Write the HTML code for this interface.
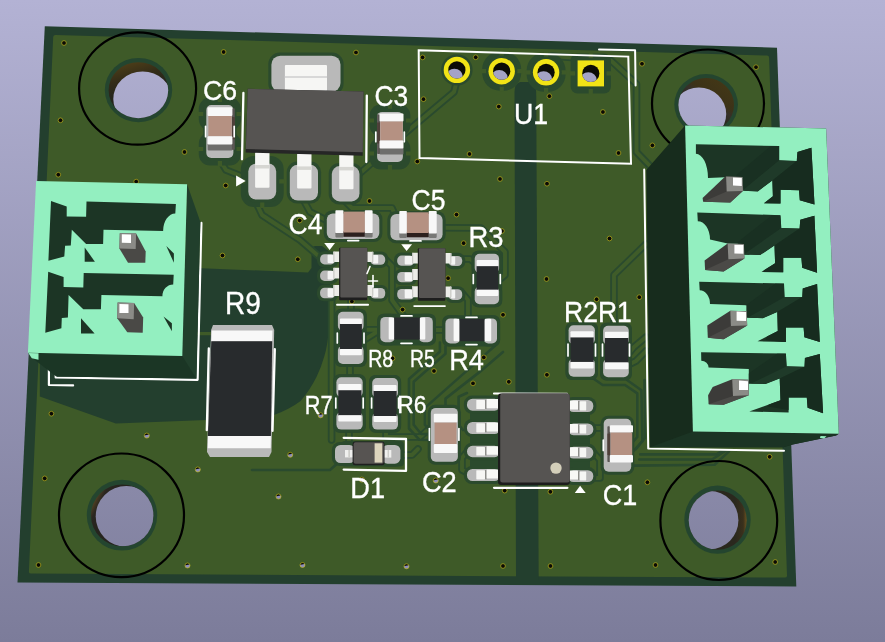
<!DOCTYPE html>
<html><head><meta charset="utf-8"><title>PCB 3D view</title>
<style>
html,body{margin:0;padding:0;background:#9a99ba;overflow:hidden}
svg{display:block}
text{font-family:"Liberation Sans",sans-serif;fill:#fff;stroke:#fff;stroke-width:0.35px}
</style></head><body>
<svg width="885" height="642" viewBox="0 0 885 642">
<defs>
<linearGradient id="bg" gradientUnits="userSpaceOnUse" x1="0" y1="0" x2="0" y2="642">
<stop offset="0" stop-color="#b3b2d4"/><stop offset="1" stop-color="#7c7c9a"/></linearGradient>
<filter id="idf" x="0" y="0" width="885" height="642" filterUnits="userSpaceOnUse"><feOffset dx="0" dy="0"/></filter>
<linearGradient id="vg" x1="0.3" y1="0" x2="0.5" y2="1"><stop offset="0.3" stop-color="#0a0a05"/><stop offset="0.5" stop-color="#8c8cba"/></linearGradient>
<linearGradient id="wall0" x1="0.3" y1="0" x2="0.45" y2="0.5"><stop offset="0" stop-color="#4e3e18"/><stop offset="0.55" stop-color="#332c18"/><stop offset="1" stop-color="#26261c"/></linearGradient>
<linearGradient id="wall1" x1="0.85" y1="0.1" x2="0.5" y2="0.6"><stop offset="0" stop-color="#433716"/><stop offset="0.55" stop-color="#3c3218"/><stop offset="0.75" stop-color="#35302a"/><stop offset="1" stop-color="#2a2a20"/></linearGradient>
<linearGradient id="wall2" x1="0" y1="0.4" x2="0.2" y2="0.5"><stop offset="0" stop-color="#4a3c22"/><stop offset="0.35" stop-color="#2a2620"/><stop offset="1" stop-color="#26241e"/></linearGradient>
<linearGradient id="wall3" x1="1" y1="0.5" x2="0.8" y2="0.5"><stop offset="0" stop-color="#6a5220"/><stop offset="0.3" stop-color="#3a301c"/><stop offset="1" stop-color="#2a281e"/></linearGradient>
</defs>
<rect width="885" height="642" fill="url(#bg)"/>

<polygon points="44.8,26.2 777.0,47.7 796.3,586.5 17.5,582.5" fill="#233f2e" />
<path d="M55.5,35 L767,55.6 Q769,55.7 769.1,57.7 L787,575.5 Q787.1,577.6 785,577.6 L31,573.6 Q28.8,573.6 28.9,571.5 L53.2,37 Q53.3,35 55.5,35 Z" fill="#3e5a28"/>
<path d="M42,268 L201.7,268.3 L308,272.4 L311.5,268 L311.5,250 Q311.5,246 316,246 L322,246 L330,252 L330,306 L329.7,320 Q328,345 324.4,356 Q321,368 316.5,377 Q310,390 300.6,401 Q290,409 274,415 L206.6,420 L115.8,423.5 L39.8,396.4 L39.8,300 Z" fill="#233f2e"/>
<path d="M514.5,92 Q514.5,84 520,82 L530,82 Q536,84 536.2,92 L538.7,580 L516,580 Z" fill="#233f2e"/>
<polyline points="456.5,82.0 454.0,92.0 404.0,134.0 366.0,168.0 350.0,182.0" fill="none" stroke="#2a4a2e" stroke-width="7.60" stroke-linecap="round" stroke-linejoin="round"/>
<polyline points="546.0,60.0 552.0,56.0 611.0,60.5 636.5,84.0 636.5,152.0 650.0,166.0" fill="none" stroke="#2a4a2e" stroke-width="7.60" stroke-linecap="round" stroke-linejoin="round"/>
<polyline points="646.0,244.0 614.0,275.0 614.0,326.0" fill="none" stroke="#2a4a2e" stroke-width="7.60" stroke-linecap="round" stroke-linejoin="round"/>
<polyline points="646.0,337.0 634.0,347.0 630.0,352.0" fill="none" stroke="#2a4a2e" stroke-width="7.60" stroke-linecap="round" stroke-linejoin="round"/>
<polyline points="646.0,351.0 636.0,361.0 630.0,364.0" fill="none" stroke="#2a4a2e" stroke-width="7.60" stroke-linecap="round" stroke-linejoin="round"/>
<polyline points="255.0,200.0 262.0,215.0 300.0,240.0 322.0,259.0" fill="none" stroke="#2a4a2e" stroke-width="7.60" stroke-linecap="round" stroke-linejoin="round"/>
<polyline points="304.0,201.0 310.0,212.0 338.0,226.0" fill="none" stroke="#2a4a2e" stroke-width="7.60" stroke-linecap="round" stroke-linejoin="round"/>
<polyline points="345.0,201.0 352.0,208.0 392.0,208.0 400.0,226.0" fill="none" stroke="#2a4a2e" stroke-width="7.60" stroke-linecap="round" stroke-linejoin="round"/>
<polyline points="437.0,227.7 481.0,228.0 505.0,252.0 505.0,275.0 499.0,280.0" fill="none" stroke="#2a4a2e" stroke-width="7.60" stroke-linecap="round" stroke-linejoin="round"/>
<polyline points="462.0,259.0 470.0,259.0 474.0,262.0" fill="none" stroke="#2a4a2e" stroke-width="7.60" stroke-linecap="round" stroke-linejoin="round"/>
<polyline points="462.0,293.0 468.0,300.0 468.0,318.0" fill="none" stroke="#2a4a2e" stroke-width="7.60" stroke-linecap="round" stroke-linejoin="round"/>
<polyline points="385.0,259.0 392.0,266.0 392.0,300.0 405.0,318.0" fill="none" stroke="#2a4a2e" stroke-width="7.60" stroke-linecap="round" stroke-linejoin="round"/>
<polyline points="351.0,299.0 351.0,314.0" fill="none" stroke="#2a4a2e" stroke-width="7.60" stroke-linecap="round" stroke-linejoin="round"/>
<polyline points="350.0,364.0 350.0,378.0" fill="none" stroke="#2a4a2e" stroke-width="7.60" stroke-linecap="round" stroke-linejoin="round"/>
<polyline points="364.0,340.0 380.0,330.0" fill="none" stroke="#2a4a2e" stroke-width="7.60" stroke-linecap="round" stroke-linejoin="round"/>
<polyline points="432.0,330.0 445.0,330.0" fill="none" stroke="#2a4a2e" stroke-width="7.60" stroke-linecap="round" stroke-linejoin="round"/>
<polyline points="386.0,430.0 386.0,437.0 420.0,437.0 430.0,428.0" fill="none" stroke="#2a4a2e" stroke-width="7.60" stroke-linecap="round" stroke-linejoin="round"/>
<polyline points="467.0,452.0 462.0,458.0 462.0,470.0 475.0,476.0" fill="none" stroke="#2a4a2e" stroke-width="7.60" stroke-linecap="round" stroke-linejoin="round"/>
<polyline points="349.0,430.0 349.0,446.0" fill="none" stroke="#2a4a2e" stroke-width="7.60" stroke-linecap="round" stroke-linejoin="round"/>
<polyline points="400.0,455.0 412.0,455.0 418.0,449.0" fill="none" stroke="#2a4a2e" stroke-width="7.60" stroke-linecap="round" stroke-linejoin="round"/>
<polyline points="593.0,428.0 602.0,428.0 606.0,424.0" fill="none" stroke="#2a4a2e" stroke-width="7.60" stroke-linecap="round" stroke-linejoin="round"/>
<polyline points="593.0,452.0 600.0,460.0 600.0,478.0 593.0,478.0" fill="none" stroke="#2a4a2e" stroke-width="7.60" stroke-linecap="round" stroke-linejoin="round"/>
<polyline points="220.0,160.0 226.0,170.0 246.0,178.0" fill="none" stroke="#2a4a2e" stroke-width="7.60" stroke-linecap="round" stroke-linejoin="round"/>
<polyline points="331.6,300.0 331.6,440.0" fill="none" stroke="#2a4a2e" stroke-width="7.60" stroke-linecap="round" stroke-linejoin="round"/>
<polyline points="364.0,329.7 381.0,329.7" fill="none" stroke="#2a4a2e" stroke-width="7.60" stroke-linecap="round" stroke-linejoin="round"/>
<polyline points="456.5,82.0 454.0,92.0 404.0,134.0 366.0,168.0 350.0,182.0" fill="none" stroke="#3f5c29" stroke-width="3.90" stroke-linecap="round" stroke-linejoin="round"/>
<polyline points="546.0,60.0 552.0,56.0 611.0,60.5 636.5,84.0 636.5,152.0 650.0,166.0" fill="none" stroke="#3f5c29" stroke-width="3.90" stroke-linecap="round" stroke-linejoin="round"/>
<polyline points="646.0,244.0 614.0,275.0 614.0,326.0" fill="none" stroke="#3f5c29" stroke-width="3.90" stroke-linecap="round" stroke-linejoin="round"/>
<polyline points="646.0,337.0 634.0,347.0 630.0,352.0" fill="none" stroke="#3f5c29" stroke-width="3.90" stroke-linecap="round" stroke-linejoin="round"/>
<polyline points="646.0,351.0 636.0,361.0 630.0,364.0" fill="none" stroke="#3f5c29" stroke-width="3.90" stroke-linecap="round" stroke-linejoin="round"/>
<polyline points="255.0,200.0 262.0,215.0 300.0,240.0 322.0,259.0" fill="none" stroke="#3f5c29" stroke-width="3.90" stroke-linecap="round" stroke-linejoin="round"/>
<polyline points="304.0,201.0 310.0,212.0 338.0,226.0" fill="none" stroke="#3f5c29" stroke-width="3.90" stroke-linecap="round" stroke-linejoin="round"/>
<polyline points="345.0,201.0 352.0,208.0 392.0,208.0 400.0,226.0" fill="none" stroke="#3f5c29" stroke-width="3.90" stroke-linecap="round" stroke-linejoin="round"/>
<polyline points="437.0,227.7 481.0,228.0 505.0,252.0 505.0,275.0 499.0,280.0" fill="none" stroke="#3f5c29" stroke-width="3.90" stroke-linecap="round" stroke-linejoin="round"/>
<polyline points="462.0,259.0 470.0,259.0 474.0,262.0" fill="none" stroke="#3f5c29" stroke-width="3.90" stroke-linecap="round" stroke-linejoin="round"/>
<polyline points="462.0,293.0 468.0,300.0 468.0,318.0" fill="none" stroke="#3f5c29" stroke-width="3.90" stroke-linecap="round" stroke-linejoin="round"/>
<polyline points="385.0,259.0 392.0,266.0 392.0,300.0 405.0,318.0" fill="none" stroke="#3f5c29" stroke-width="3.90" stroke-linecap="round" stroke-linejoin="round"/>
<polyline points="351.0,299.0 351.0,314.0" fill="none" stroke="#3f5c29" stroke-width="3.90" stroke-linecap="round" stroke-linejoin="round"/>
<polyline points="350.0,364.0 350.0,378.0" fill="none" stroke="#3f5c29" stroke-width="3.90" stroke-linecap="round" stroke-linejoin="round"/>
<polyline points="364.0,340.0 380.0,330.0" fill="none" stroke="#3f5c29" stroke-width="3.90" stroke-linecap="round" stroke-linejoin="round"/>
<polyline points="432.0,330.0 445.0,330.0" fill="none" stroke="#3f5c29" stroke-width="3.90" stroke-linecap="round" stroke-linejoin="round"/>
<polyline points="386.0,430.0 386.0,437.0 420.0,437.0 430.0,428.0" fill="none" stroke="#3f5c29" stroke-width="3.90" stroke-linecap="round" stroke-linejoin="round"/>
<polyline points="467.0,452.0 462.0,458.0 462.0,470.0 475.0,476.0" fill="none" stroke="#3f5c29" stroke-width="3.90" stroke-linecap="round" stroke-linejoin="round"/>
<polyline points="349.0,430.0 349.0,446.0" fill="none" stroke="#3f5c29" stroke-width="3.90" stroke-linecap="round" stroke-linejoin="round"/>
<polyline points="400.0,455.0 412.0,455.0 418.0,449.0" fill="none" stroke="#3f5c29" stroke-width="3.90" stroke-linecap="round" stroke-linejoin="round"/>
<polyline points="593.0,428.0 602.0,428.0 606.0,424.0" fill="none" stroke="#3f5c29" stroke-width="3.90" stroke-linecap="round" stroke-linejoin="round"/>
<polyline points="593.0,452.0 600.0,460.0 600.0,478.0 593.0,478.0" fill="none" stroke="#3f5c29" stroke-width="3.90" stroke-linecap="round" stroke-linejoin="round"/>
<polyline points="220.0,160.0 226.0,170.0 246.0,178.0" fill="none" stroke="#3f5c29" stroke-width="3.90" stroke-linecap="round" stroke-linejoin="round"/>
<polyline points="331.6,300.0 331.6,440.0" fill="none" stroke="#3f5c29" stroke-width="3.90" stroke-linecap="round" stroke-linejoin="round"/>
<polyline points="364.0,329.7 381.0,329.7" fill="none" stroke="#3f5c29" stroke-width="3.90" stroke-linecap="round" stroke-linejoin="round"/>
<polyline points="439.9,342.5 439.9,351.8 409.0,378.9 409.0,428.5 419.3,439.7 430.0,440.0" fill="none" stroke="#2a4a2e" stroke-width="2.60" stroke-linecap="round" stroke-linejoin="round"/>
<polyline points="445.5,346.2 445.5,353.7 413.7,381.7 413.7,424.7 421.2,434.0 430.0,434.0" fill="none" stroke="#2a4a2e" stroke-width="2.60" stroke-linecap="round" stroke-linejoin="round"/>
<polyline points="497.0,344.0 473.5,364.9 424.9,407.9 424.9,424.7 431.0,432.0" fill="none" stroke="#2a4a2e" stroke-width="2.60" stroke-linecap="round" stroke-linejoin="round"/>
<polyline points="503.0,352.0 479.1,372.4 445.5,398.6 445.5,406.0" fill="none" stroke="#2a4a2e" stroke-width="2.60" stroke-linecap="round" stroke-linejoin="round"/>
<polyline points="467.0,393.0 458.6,396.7 458.6,424.7 463.0,430.0" fill="none" stroke="#2a4a2e" stroke-width="2.60" stroke-linecap="round" stroke-linejoin="round"/>
<polyline points="252.0,470.0 330.0,470.0 340.0,461.0" fill="none" stroke="#2a4a2e" stroke-width="2.60" stroke-linecap="round" stroke-linejoin="round"/>
<polyline points="592.5,378.0 602.7,385.0 625.0,385.0 637.3,393.4 637.3,437.0 632.0,443.0" fill="none" stroke="#2a4a2e" stroke-width="2.60" stroke-linecap="round" stroke-linejoin="round"/>
<polyline points="627.0,380.0 641.4,390.3 642.4,441.0 633.2,451.4" fill="none" stroke="#2a4a2e" stroke-width="2.60" stroke-linecap="round" stroke-linejoin="round"/>
<polyline points="644.5,380.0 645.0,438.0 636.0,449.0" fill="none" stroke="#2a4a2e" stroke-width="2.60" stroke-linecap="round" stroke-linejoin="round"/>
<polyline points="640.3,454.4 716.6,454.4 722.7,450.3" fill="none" stroke="#2a4a2e" stroke-width="2.60" stroke-linecap="round" stroke-linejoin="round"/>
<polyline points="639.3,459.5 712.0,459.5 726.0,450.5" fill="none" stroke="#2a4a2e" stroke-width="2.60" stroke-linecap="round" stroke-linejoin="round"/>
<polyline points="633.0,465.6 714.6,464.8 729.0,451.4" fill="none" stroke="#2a4a2e" stroke-width="2.60" stroke-linecap="round" stroke-linejoin="round"/>
<circle cx="64.0" cy="43.0" r="2.35" fill="#0a0a05" stroke="#cfc01c" stroke-width="0.6"/>
<circle cx="223.6" cy="52.0" r="2.35" fill="#0a0a05" stroke="#cfc01c" stroke-width="0.6"/>
<circle cx="60.5" cy="120.3" r="2.35" fill="#0a0a05" stroke="#cfc01c" stroke-width="0.6"/>
<circle cx="184.5" cy="152.0" r="2.35" fill="#0a0a05" stroke="#cfc01c" stroke-width="0.6"/>
<circle cx="356.0" cy="52.5" r="2.35" fill="#0a0a05" stroke="#cfc01c" stroke-width="0.6"/>
<circle cx="422.6" cy="57.4" r="2.35" fill="#0a0a05" stroke="#cfc01c" stroke-width="0.6"/>
<circle cx="423.5" cy="99.2" r="2.35" fill="#0a0a05" stroke="#cfc01c" stroke-width="0.6"/>
<circle cx="417.3" cy="161.5" r="2.35" fill="#0a0a05" stroke="#cfc01c" stroke-width="0.6"/>
<circle cx="225.7" cy="185.5" r="2.35" fill="#0a0a05" stroke="#cfc01c" stroke-width="0.6"/>
<circle cx="369.5" cy="201.0" r="2.35" fill="#0a0a05" stroke="#cfc01c" stroke-width="0.6"/>
<circle cx="475.7" cy="57.3" r="2.35" fill="#0a0a05" stroke="#cfc01c" stroke-width="0.6"/>
<circle cx="498.8" cy="106.6" r="2.35" fill="#0a0a05" stroke="#cfc01c" stroke-width="0.6"/>
<circle cx="549.4" cy="96.2" r="2.35" fill="#0a0a05" stroke="#cfc01c" stroke-width="0.6"/>
<circle cx="602.9" cy="112.0" r="2.35" fill="#0a0a05" stroke="#cfc01c" stroke-width="0.6"/>
<circle cx="642.0" cy="63.8" r="2.35" fill="#0a0a05" stroke="#cfc01c" stroke-width="0.6"/>
<circle cx="469.5" cy="154.0" r="2.35" fill="#0a0a05" stroke="#cfc01c" stroke-width="0.6"/>
<circle cx="618.5" cy="153.0" r="2.35" fill="#0a0a05" stroke="#cfc01c" stroke-width="0.6"/>
<circle cx="500.0" cy="179.0" r="2.35" fill="#0a0a05" stroke="#cfc01c" stroke-width="0.6"/>
<circle cx="547.0" cy="183.7" r="2.35" fill="#0a0a05" stroke="#cfc01c" stroke-width="0.6"/>
<circle cx="756.0" cy="67.2" r="2.35" fill="#0a0a05" stroke="#cfc01c" stroke-width="0.6"/>
<circle cx="652.4" cy="145.4" r="2.35" fill="#0a0a05" stroke="#cfc01c" stroke-width="0.6"/>
<circle cx="639.3" cy="297.2" r="2.35" fill="#0a0a05" stroke="#cfc01c" stroke-width="0.6"/>
<circle cx="769.6" cy="456.8" r="2.35" fill="#0a0a05" stroke="#cfc01c" stroke-width="0.6"/>
<circle cx="647.4" cy="482.3" r="2.35" fill="#0a0a05" stroke="#cfc01c" stroke-width="0.6"/>
<circle cx="775.2" cy="562.0" r="2.35" fill="#0a0a05" stroke="#cfc01c" stroke-width="0.6"/>
<circle cx="299.7" cy="220.5" r="2.35" fill="#0a0a05" stroke="#cfc01c" stroke-width="0.6"/>
<circle cx="297.8" cy="259.3" r="2.35" fill="#0a0a05" stroke="#cfc01c" stroke-width="0.6"/>
<circle cx="456.5" cy="214.6" r="2.35" fill="#0a0a05" stroke="#cfc01c" stroke-width="0.6"/>
<circle cx="463.6" cy="243.2" r="2.35" fill="#0a0a05" stroke="#cfc01c" stroke-width="0.6"/>
<circle cx="501.9" cy="231.0" r="2.35" fill="#0a0a05" stroke="#cfc01c" stroke-width="0.6"/>
<circle cx="448.1" cy="278.2" r="2.35" fill="#0a0a05" stroke="#cfc01c" stroke-width="0.6"/>
<circle cx="351.9" cy="301.5" r="2.35" fill="#0a0a05" stroke="#cfc01c" stroke-width="0.6"/>
<circle cx="402.6" cy="309.6" r="2.35" fill="#0a0a05" stroke="#cfc01c" stroke-width="0.6"/>
<circle cx="503.0" cy="314.8" r="2.35" fill="#0a0a05" stroke="#cfc01c" stroke-width="0.6"/>
<circle cx="392.5" cy="358.3" r="2.35" fill="#0a0a05" stroke="#cfc01c" stroke-width="0.6"/>
<circle cx="434.0" cy="371.0" r="2.35" fill="#0a0a05" stroke="#cfc01c" stroke-width="0.6"/>
<circle cx="483.8" cy="357.4" r="2.35" fill="#0a0a05" stroke="#cfc01c" stroke-width="0.6"/>
<circle cx="473.0" cy="383.4" r="2.35" fill="#0a0a05" stroke="#cfc01c" stroke-width="0.6"/>
<circle cx="508.8" cy="381.8" r="2.35" fill="#0a0a05" stroke="#cfc01c" stroke-width="0.6"/>
<circle cx="546.9" cy="374.8" r="2.35" fill="#0a0a05" stroke="#cfc01c" stroke-width="0.6"/>
<circle cx="596.6" cy="299.3" r="2.35" fill="#0a0a05" stroke="#cfc01c" stroke-width="0.6"/>
<circle cx="609.5" cy="238.5" r="2.35" fill="#0a0a05" stroke="#cfc01c" stroke-width="0.6"/>
<circle cx="546.5" cy="279.0" r="2.35" fill="#0a0a05" stroke="#cfc01c" stroke-width="0.6"/>
<circle cx="504.7" cy="490.6" r="2.35" fill="#0a0a05" stroke="#cfc01c" stroke-width="0.6"/>
<circle cx="550.4" cy="491.8" r="2.35" fill="#0a0a05" stroke="#cfc01c" stroke-width="0.6"/>
<circle cx="503.0" cy="566.0" r="2.35" fill="#0a0a05" stroke="#cfc01c" stroke-width="0.6"/>
<circle cx="550.5" cy="566.0" r="2.35" fill="#0a0a05" stroke="#cfc01c" stroke-width="0.6"/>
<circle cx="655.5" cy="565.0" r="2.35" fill="#0a0a05" stroke="#cfc01c" stroke-width="0.6"/>
<circle cx="51.4" cy="413.7" r="2.35" fill="#0a0a05" stroke="#cfc01c" stroke-width="0.6"/>
<circle cx="44.7" cy="478.4" r="2.35" fill="#0a0a05" stroke="#cfc01c" stroke-width="0.6"/>
<circle cx="38.5" cy="565.0" r="2.35" fill="#0a0a05" stroke="#cfc01c" stroke-width="0.6"/>
<circle cx="58.3" cy="174.7" r="2.35" fill="#0a0a05" stroke="#cfc01c" stroke-width="0.6"/>
<circle cx="222.5" cy="255.5" r="2.35" fill="#0a0a05" stroke="#cfc01c" stroke-width="0.6"/>
<circle cx="136.2" cy="181.6" r="2.35" fill="#0a0a05" stroke="#cfc01c" stroke-width="0.6"/>
<circle cx="361.8" cy="479.6" r="2.50" fill="url(#vg)" stroke="#cfc01c" stroke-width="0.6"/>
<circle cx="146.8" cy="435.6" r="2.50" fill="url(#vg)" stroke="#cfc01c" stroke-width="0.6"/>
<circle cx="197.8" cy="469.5" r="2.50" fill="url(#vg)" stroke="#cfc01c" stroke-width="0.6"/>
<circle cx="187.5" cy="565.5" r="2.50" fill="url(#vg)" stroke="#cfc01c" stroke-width="0.6"/>
<circle cx="302.5" cy="565.0" r="2.50" fill="url(#vg)" stroke="#cfc01c" stroke-width="0.6"/>
<circle cx="406.5" cy="566.3" r="2.50" fill="url(#vg)" stroke="#cfc01c" stroke-width="0.6"/>
<circle cx="290.2" cy="454.8" r="2.50" fill="url(#vg)" stroke="#cfc01c" stroke-width="0.6"/>
<circle cx="278.5" cy="496.5" r="2.50" fill="url(#vg)" stroke="#cfc01c" stroke-width="0.6"/>
<circle cx="320.6" cy="415.3" r="2.50" fill="url(#vg)" stroke="#cfc01c" stroke-width="0.6"/>
<circle cx="435.8" cy="480.5" r="2.50" fill="url(#vg)" stroke="#cfc01c" stroke-width="0.6"/>
<ellipse cx="138.5" cy="90.1" rx="33.7" ry="32.2" fill="#24452f"/>
<clipPath id="hc0"><ellipse cx="138.4" cy="90.2" rx="29.8" ry="28.0"/></clipPath>
<ellipse cx="138.4" cy="90.2" rx="29.8" ry="28.0" fill="url(#wall0)"/>
<ellipse cx="142.6" cy="98.9" rx="29.3" ry="27.5" fill="url(#bg)" clip-path="url(#hc0)"/>
<ellipse cx="137.6" cy="88.5" rx="58.5" ry="56.2" fill="none" stroke="#000" stroke-width="2.2"/>
<ellipse cx="706.1" cy="104.6" rx="31.8" ry="30.5" fill="#24452f"/>
<clipPath id="hc1"><ellipse cx="706.2" cy="105.0" rx="27.8" ry="27.0"/></clipPath>
<ellipse cx="706.2" cy="105.0" rx="27.8" ry="27.0" fill="url(#wall1)"/>
<ellipse cx="698.9" cy="114.0" rx="27.3" ry="26.5" fill="url(#bg)" clip-path="url(#hc1)"/>
<ellipse cx="708.0" cy="103.5" rx="56.0" ry="54.0" fill="none" stroke="#000" stroke-width="2.2"/>
<ellipse cx="122.0" cy="515.2" rx="35.2" ry="35.4" fill="#24452f"/>
<clipPath id="hc2"><ellipse cx="122.2" cy="515.4" rx="31.2" ry="30.9"/></clipPath>
<ellipse cx="122.2" cy="515.4" rx="31.2" ry="30.9" fill="url(#wall2)"/>
<ellipse cx="126.4" cy="516.4" rx="30.7" ry="30.4" fill="url(#bg)" clip-path="url(#hc2)"/>
<ellipse cx="121.5" cy="515.3" rx="62.5" ry="61.8" fill="none" stroke="#000" stroke-width="2.2"/>
<ellipse cx="717.5" cy="519.7" rx="33.2" ry="34.1" fill="#24452f"/>
<clipPath id="hc3"><ellipse cx="717.7" cy="520.2" rx="29.0" ry="29.6"/></clipPath>
<ellipse cx="717.7" cy="520.2" rx="29.0" ry="29.6" fill="url(#wall3)"/>
<ellipse cx="709.9" cy="520.2" rx="28.5" ry="29.1" fill="url(#bg)" clip-path="url(#hc3)"/>
<ellipse cx="718.8" cy="520.5" rx="58.4" ry="59.5" fill="none" stroke="#000" stroke-width="2.2"/>
<rect x="482.2" y="51.7" width="39.0" height="39.0" rx="17.6" fill="#2b4a2d"/>
<line x1="481.2" y1="71.2" x2="522.2" y2="71.2" stroke="#3e5a28" stroke-width="4.2"/>
<line x1="501.7" y1="50.7" x2="501.7" y2="91.7" stroke="#3e5a28" stroke-width="4.2"/>
<rect x="526.6" y="52.8" width="39.0" height="39.0" rx="17.6" fill="#2b4a2d"/>
<line x1="525.6" y1="72.3" x2="566.6" y2="72.3" stroke="#3e5a28" stroke-width="4.2"/>
<line x1="546.1" y1="51.8" x2="546.1" y2="92.8" stroke="#3e5a28" stroke-width="4.2"/>
<rect x="570.6" y="53.4" width="40.4" height="40.0" rx="6.9" fill="#2b4a2d"/>
<line x1="569.6" y1="73.4" x2="612.0" y2="73.4" stroke="#3e5a28" stroke-width="4.2"/>
<line x1="590.8" y1="52.4" x2="590.8" y2="94.4" stroke="#3e5a28" stroke-width="4.2"/>
<polygon points="418.7,50.3 628.3,56.6 631.0,163.7 419.5,158.0" fill="none" stroke="#fff" stroke-width="2"/>
<polyline points="599.0,49.5 635.1,50.3 635.6,85.6" fill="none" stroke="#fff" stroke-width="2.00" stroke-linecap="round" stroke-linejoin="round"/>
<circle cx="456.9" cy="69.9" r="15.7" fill="#2b4a2d"/>
<circle cx="456.9" cy="69.9" r="13.2" fill="#f2e416"/>
<clipPath id="p456"><circle cx="456.9" cy="69.9" r="8.6"/></clipPath>
<circle cx="456.9" cy="69.9" r="8.6" fill="#0c0c06"/>
<ellipse cx="454.4" cy="76.4" rx="8.4" ry="7.6" fill="#a4a3c6" clip-path="url(#p456)"/>
<circle cx="501.7" cy="71.2" r="15.7" fill="#2b4a2d"/>
<circle cx="501.7" cy="71.2" r="13.2" fill="#f2e416"/>
<clipPath id="p501"><circle cx="501.7" cy="71.2" r="8.6"/></clipPath>
<circle cx="501.7" cy="71.2" r="8.6" fill="#0c0c06"/>
<ellipse cx="499.2" cy="77.7" rx="8.4" ry="7.6" fill="#a4a3c6" clip-path="url(#p501)"/>
<circle cx="546.1" cy="72.3" r="15.7" fill="#2b4a2d"/>
<circle cx="546.1" cy="72.3" r="13.2" fill="#f2e416"/>
<clipPath id="p546"><circle cx="546.1" cy="72.3" r="8.6"/></clipPath>
<circle cx="546.1" cy="72.3" r="8.6" fill="#0c0c06"/>
<ellipse cx="543.6" cy="78.8" rx="8.4" ry="7.6" fill="#a4a3c6" clip-path="url(#p546)"/>
<rect x="575.1" y="57.9" width="31.4" height="31" rx="2" fill="#2b4a2d"/>
<rect x="577.6" y="60.4" width="26.4" height="26.0" rx="0.0" fill="#f2e416" />
<clipPath id="p590"><circle cx="590.8" cy="73.4" r="8.6"/></clipPath>
<circle cx="590.8" cy="73.4" r="8.6" fill="#0c0c06"/>
<ellipse cx="588.3" cy="79.9" rx="8.4" ry="7.6" fill="#a4a3c6" clip-path="url(#p590)"/>
<rect x="240.8" y="155.9" width="42.9" height="51.1" rx="13.2" fill="#2b4a2d"/>
<line x1="239.8" y1="181.4" x2="284.7" y2="181.4" stroke="#3e5a28" stroke-width="4.2"/>
<line x1="262.2" y1="154.9" x2="262.2" y2="208.0" stroke="#3e5a28" stroke-width="4.2"/>
<rect x="198.8" y="97.6" width="42.1" height="32.9" rx="11.2" fill="#2b4a2d"/>
<line x1="197.8" y1="114.0" x2="241.9" y2="114.0" stroke="#3e5a28" stroke-width="4.2"/>
<line x1="219.9" y1="96.6" x2="219.9" y2="131.5" stroke="#3e5a28" stroke-width="4.2"/>
<rect x="198.8" y="132.5" width="42.1" height="33.0" rx="11.2" fill="#2b4a2d"/>
<line x1="197.8" y1="149.0" x2="241.9" y2="149.0" stroke="#3e5a28" stroke-width="4.2"/>
<line x1="219.9" y1="131.5" x2="219.9" y2="166.5" stroke="#3e5a28" stroke-width="4.2"/>
<rect x="369.6" y="104.4" width="40.8" height="32.1" rx="11.2" fill="#2b4a2d"/>
<line x1="368.6" y1="120.5" x2="411.4" y2="120.5" stroke="#3e5a28" stroke-width="4.2"/>
<line x1="390.0" y1="103.4" x2="390.0" y2="137.5" stroke="#3e5a28" stroke-width="4.2"/>
<rect x="369.6" y="137.5" width="40.8" height="32.0" rx="11.2" fill="#2b4a2d"/>
<line x1="368.6" y1="153.5" x2="411.4" y2="153.5" stroke="#3e5a28" stroke-width="4.2"/>
<line x1="390.0" y1="136.5" x2="390.0" y2="170.5" stroke="#3e5a28" stroke-width="4.2"/>
<rect x="268.3" y="52.6" width="75.3" height="42.5" rx="11.6" fill="#2b4a2d"/>
<rect x="271.4" y="55.7" width="69.1" height="36.3" rx="9.0" fill="#b9b9b9" />
<rect x="284.9" y="65.0" width="42.1" height="26.0" rx="1.0" fill="#f6f6f4" />
<rect x="284.9" y="76.0" width="42.1" height="2.0" rx="0.0" fill="#d8d8d8" />
<rect x="245.2" y="160.3" width="34.1" height="42.3" rx="10.6" fill="#2b4a2d"/>
<rect x="248.3" y="163.4" width="27.9" height="36.1" rx="8.0" fill="#b9b9b9" />
<rect x="286.7" y="161.6" width="34.4" height="42.0" rx="10.6" fill="#2b4a2d"/>
<rect x="289.8" y="164.7" width="28.2" height="35.8" rx="8.0" fill="#b9b9b9" />
<rect x="328.7" y="163.0" width="33.9" height="41.5" rx="10.6" fill="#2b4a2d"/>
<rect x="331.8" y="166.1" width="27.7" height="35.3" rx="8.0" fill="#b9b9b9" />
<rect x="255.1" y="152.0" width="14.4" height="35.8" rx="1.0" fill="#f6f6f4" />
<rect x="255.1" y="165.0" width="14.4" height="3.5" rx="0.0" fill="#d6d6d2" />
<rect x="297.1" y="153.4" width="14.4" height="35.2" rx="1.0" fill="#f6f6f4" />
<rect x="297.1" y="166.4" width="14.4" height="3.5" rx="0.0" fill="#d6d6d2" />
<rect x="339.2" y="153.9" width="14.3" height="35.3" rx="1.0" fill="#f6f6f4" />
<rect x="339.2" y="166.9" width="14.3" height="3.5" rx="0.0" fill="#d6d6d2" />
<polygon points="247.8,88.8 363.5,91.5 362.7,155.8 245.6,152.6" fill="#262626" />
<polygon points="247.8,88.8 363.5,91.5 362.8,152.2 245.8,149.0" fill="#565452" />
<line x1="243.4" y1="92.9" x2="242.0" y2="159.3" stroke="#fff" stroke-width="2.30" stroke-linecap="round"/>
<line x1="366.8" y1="95.6" x2="366.3" y2="162.0" stroke="#fff" stroke-width="2.30" stroke-linecap="round"/>
<polygon points="236.1,175.6 236.1,186.4 245.6,181.0" fill="#fff" />
<rect x="203.2" y="102.0" width="33.3" height="59.1" rx="7.6" fill="#2b4a2d"/>
<rect x="206.3" y="105.1" width="27.1" height="52.9" rx="5.0" fill="#b9b9b9" />
<rect x="207.6" y="143.4" width="24.8" height="7.0" rx="1.0" fill="#6e6e6c" />
<rect x="231.9" y="108.3" width="2.9" height="41.6" rx="0.8" fill="#5a5654" />
<rect x="231.9" y="117.0" width="2.9" height="22.3" rx="0.0" fill="#4e3f39" />
<rect x="207.6" y="107.3" width="24.8" height="8.7" rx="1.0" fill="#f8f8f8" />
<rect x="208.4" y="116.0" width="23.2" height="20.3" rx="0.0" fill="#b59182" />
<rect x="207.6" y="136.3" width="24.8" height="8.1" rx="1.0" fill="#f8f8f8" />
<rect x="374.0" y="108.8" width="32.0" height="56.3" rx="7.6" fill="#2b4a2d"/>
<rect x="377.1" y="111.9" width="25.8" height="50.1" rx="5.0" fill="#b9b9b9" />
<rect x="379.5" y="147.5" width="24.0" height="7.0" rx="1.0" fill="#6e6e6c" />
<rect x="377.1" y="114.5" width="2.9" height="39.5" rx="0.8" fill="#5a5654" />
<rect x="377.1" y="122.5" width="2.9" height="21.0" rx="0.0" fill="#4e3f39" />
<rect x="379.5" y="113.5" width="24.0" height="8.0" rx="1.0" fill="#f8f8f8" />
<rect x="380.3" y="121.5" width="22.4" height="19.0" rx="0.0" fill="#b59182" />
<rect x="379.5" y="140.5" width="24.0" height="8.0" rx="1.0" fill="#f8f8f8" />
<line x1="205.6" y1="126.4" x2="205.6" y2="136.7" stroke="#fff" stroke-width="1.70" stroke-linecap="round"/>
<line x1="234.2" y1="126.4" x2="234.2" y2="136.7" stroke="#fff" stroke-width="1.70" stroke-linecap="round"/>
<line x1="375.8" y1="132.0" x2="375.8" y2="141.7" stroke="#fff" stroke-width="1.70" stroke-linecap="round"/>
<line x1="404.3" y1="132.0" x2="404.3" y2="141.7" stroke="#fff" stroke-width="1.70" stroke-linecap="round"/>
<rect x="323.7" y="210.3" width="58.7" height="31.7" rx="8.6" fill="#2b4a2d"/>
<rect x="326.8" y="213.4" width="52.5" height="25.5" rx="6.0" fill="#b9b9b9" />
<rect x="335.4" y="232.4" width="8.1" height="5.0" rx="0.8" fill="#787876" />
<rect x="364.8" y="232.4" width="7.8" height="5.0" rx="0.8" fill="#787876" />
<rect x="335.4" y="210.3" width="8.1" height="22.8" rx="0.8" fill="#f8f8f8" />
<rect x="364.8" y="210.3" width="7.8" height="22.8" rx="0.8" fill="#f8f8f8" />
<rect x="343.5" y="231.4" width="21.3" height="5.4" rx="0.0" fill="#2c201e" />
<rect x="343.5" y="211.6" width="21.3" height="20.9" rx="0.0" fill="#b59182" />
<rect x="387.3" y="210.9" width="58.4" height="32.4" rx="8.6" fill="#2b4a2d"/>
<rect x="390.4" y="214.0" width="52.2" height="26.2" rx="6.0" fill="#b9b9b9" />
<rect x="399.3" y="232.9" width="7.6" height="5.0" rx="0.8" fill="#787876" />
<rect x="428.7" y="232.9" width="8.0" height="5.0" rx="0.8" fill="#787876" />
<rect x="399.3" y="211.0" width="7.6" height="22.6" rx="0.8" fill="#f8f8f8" />
<rect x="428.7" y="211.0" width="8.0" height="22.6" rx="0.8" fill="#f8f8f8" />
<rect x="406.9" y="231.9" width="21.8" height="5.4" rx="0.0" fill="#2c201e" />
<rect x="406.9" y="212.3" width="21.8" height="20.7" rx="0.0" fill="#b59182" />
<rect x="317.0" y="251.2" width="21.4" height="16.3" rx="7.1" fill="#2b4a2d"/>
<rect x="320.1" y="254.3" width="15.2" height="10.1" rx="4.5" fill="#b9b9b9" />
<rect x="327.6" y="254.8" width="6.2" height="8.3" rx="0.8" fill="#f4f4f4" />
<rect x="333.3" y="251.5" width="7.0" height="10.6" rx="0.8" fill="#ecece8" />
<rect x="333.3" y="251.5" width="1.2" height="10.6" rx="0.0" fill="#c9c9c5" />
<rect x="317.0" y="267.5" width="21.4" height="16.5" rx="7.1" fill="#2b4a2d"/>
<rect x="320.1" y="270.6" width="15.2" height="10.3" rx="4.5" fill="#b9b9b9" />
<rect x="327.6" y="271.1" width="6.2" height="8.5" rx="0.8" fill="#f4f4f4" />
<rect x="333.3" y="267.8" width="7.0" height="10.8" rx="0.8" fill="#ecece8" />
<rect x="333.3" y="267.8" width="1.2" height="10.8" rx="0.0" fill="#c9c9c5" />
<rect x="317.0" y="284.6" width="21.4" height="16.7" rx="7.1" fill="#2b4a2d"/>
<rect x="320.1" y="287.7" width="15.2" height="10.5" rx="4.5" fill="#b9b9b9" />
<rect x="327.6" y="288.2" width="6.2" height="8.7" rx="0.8" fill="#f4f4f4" />
<rect x="333.3" y="284.9" width="7.0" height="11.0" rx="0.8" fill="#ecece8" />
<rect x="333.3" y="284.9" width="1.2" height="11.0" rx="0.0" fill="#c9c9c5" />
<rect x="367.2" y="251.5" width="21.1" height="16.4" rx="7.1" fill="#2b4a2d"/>
<rect x="370.3" y="254.6" width="14.9" height="10.2" rx="4.5" fill="#b9b9b9" />
<rect x="372.8" y="255.1" width="5.4" height="8.4" rx="0.8" fill="#f4f4f4" />
<rect x="365.3" y="251.7" width="8.0" height="10.4" rx="0.8" fill="#ecece8" />
<rect x="372.1" y="251.7" width="1.2" height="10.4" rx="0.0" fill="#c9c9c5" />
<rect x="367.2" y="284.9" width="21.1" height="16.8" rx="7.1" fill="#2b4a2d"/>
<rect x="370.3" y="288.0" width="14.9" height="10.6" rx="4.5" fill="#b9b9b9" />
<rect x="372.8" y="288.5" width="5.4" height="8.8" rx="0.8" fill="#f4f4f4" />
<rect x="365.3" y="285.1" width="8.0" height="10.8" rx="0.8" fill="#ecece8" />
<rect x="372.1" y="285.1" width="1.2" height="10.8" rx="0.0" fill="#c9c9c5" />
<rect x="339.1" y="247.8" width="28.2" height="52.5" rx="1.0" fill="#1e1e1e" />
<rect x="340.3" y="247.8" width="27.0" height="49.8" rx="1.0" fill="#565452" />
<rect x="394.1" y="252.5" width="23.0" height="16.3" rx="7.1" fill="#2b4a2d"/>
<rect x="397.2" y="255.6" width="16.8" height="10.1" rx="4.5" fill="#b9b9b9" />
<rect x="404.7" y="256.1" width="7.8" height="8.3" rx="0.8" fill="#f4f4f4" />
<rect x="412.0" y="252.8" width="7.0" height="10.6" rx="0.8" fill="#ecece8" />
<rect x="412.0" y="252.8" width="1.2" height="10.6" rx="0.0" fill="#c9c9c5" />
<rect x="394.1" y="268.8" width="23.0" height="16.5" rx="7.1" fill="#2b4a2d"/>
<rect x="397.2" y="271.9" width="16.8" height="10.3" rx="4.5" fill="#b9b9b9" />
<rect x="404.7" y="272.4" width="7.8" height="8.5" rx="0.8" fill="#f4f4f4" />
<rect x="412.0" y="269.1" width="7.0" height="10.8" rx="0.8" fill="#ecece8" />
<rect x="412.0" y="269.1" width="1.2" height="10.8" rx="0.0" fill="#c9c9c5" />
<rect x="394.1" y="285.9" width="23.0" height="16.7" rx="7.1" fill="#2b4a2d"/>
<rect x="397.2" y="289.0" width="16.8" height="10.5" rx="4.5" fill="#b9b9b9" />
<rect x="404.7" y="289.5" width="7.8" height="8.7" rx="0.8" fill="#f4f4f4" />
<rect x="412.0" y="286.2" width="7.0" height="11.0" rx="0.8" fill="#ecece8" />
<rect x="412.0" y="286.2" width="1.2" height="11.0" rx="0.0" fill="#c9c9c5" />
<rect x="445.3" y="252.8" width="20.0" height="16.4" rx="7.1" fill="#2b4a2d"/>
<rect x="448.4" y="255.9" width="13.8" height="10.2" rx="4.5" fill="#b9b9b9" />
<rect x="450.9" y="256.4" width="4.3" height="8.4" rx="0.8" fill="#f4f4f4" />
<rect x="443.4" y="253.0" width="8.0" height="10.4" rx="0.8" fill="#ecece8" />
<rect x="450.2" y="253.0" width="1.2" height="10.4" rx="0.0" fill="#c9c9c5" />
<rect x="445.3" y="286.2" width="20.0" height="16.8" rx="7.1" fill="#2b4a2d"/>
<rect x="448.4" y="289.3" width="13.8" height="10.6" rx="4.5" fill="#b9b9b9" />
<rect x="450.9" y="289.8" width="4.3" height="8.8" rx="0.8" fill="#f4f4f4" />
<rect x="443.4" y="286.4" width="8.0" height="10.8" rx="0.8" fill="#ecece8" />
<rect x="450.2" y="286.4" width="1.2" height="10.8" rx="0.0" fill="#c9c9c5" />
<rect x="417.8" y="248.3" width="27.6" height="52.5" rx="1.0" fill="#1e1e1e" />
<rect x="419.0" y="248.3" width="26.4" height="49.8" rx="1.0" fill="#565452" />
<polygon points="324.2,242.9 335.0,242.9 329.6,250.0" fill="#fff" />
<polygon points="401.2,244.3 412.1,244.3 406.6,251.0" fill="#fff" />
<line x1="337.0" y1="304.7" x2="368.1" y2="304.7" stroke="#fff" stroke-width="1.90" stroke-linecap="round"/>
<line x1="414.2" y1="306.1" x2="444.9" y2="306.1" stroke="#fff" stroke-width="1.90" stroke-linecap="round"/>
<line x1="368.5" y1="281.0" x2="377.5" y2="281.0" stroke="#fff" stroke-width="1.60" stroke-linecap="round"/>
<line x1="373.0" y1="275.5" x2="373.0" y2="287.0" stroke="#fff" stroke-width="1.60" stroke-linecap="round"/>
<line x1="367.0" y1="273.5" x2="370.0" y2="266.5" stroke="#fff" stroke-width="1.60" stroke-linecap="round"/>
<rect x="471.6" y="250.7" width="30.6" height="56.6" rx="6" fill="#2b4a2d"/>
<rect x="471.6" y="250.7" width="30.6" height="25.4" rx="7.6" fill="#2b4a2d"/>
<rect x="474.7" y="253.8" width="24.4" height="19.2" rx="5.0" fill="#b9b9b9" />
<rect x="471.6" y="283.4" width="30.6" height="23.9" rx="7.6" fill="#2b4a2d"/>
<rect x="474.7" y="286.5" width="24.4" height="17.7" rx="5.0" fill="#b9b9b9" />
<rect x="476.6" y="260.0" width="21.7" height="6.2" rx="1.0" fill="#f8f8f8" />
<rect x="476.6" y="266.2" width="21.7" height="23.6" rx="0.0" fill="#282b2d" />
<rect x="476.6" y="289.8" width="21.7" height="6.2" rx="1.0" fill="#f8f8f8" />
<rect x="334.8" y="308.7" width="31.9" height="58.4" rx="6" fill="#2b4a2d"/>
<rect x="334.8" y="308.7" width="31.9" height="25.2" rx="7.6" fill="#2b4a2d"/>
<rect x="337.9" y="311.8" width="25.7" height="19.0" rx="5.0" fill="#b9b9b9" />
<rect x="334.8" y="342.6" width="31.9" height="24.5" rx="7.6" fill="#2b4a2d"/>
<rect x="337.9" y="345.7" width="25.7" height="18.3" rx="5.0" fill="#b9b9b9" />
<rect x="339.9" y="318.6" width="22.0" height="5.4" rx="1.0" fill="#f8f8f8" />
<rect x="339.9" y="324.0" width="22.0" height="25.0" rx="0.0" fill="#282b2d" />
<rect x="339.9" y="349.0" width="22.0" height="6.2" rx="1.0" fill="#f8f8f8" />
<rect x="377.2" y="313.8" width="58.7" height="31.6" rx="6" fill="#2b4a2d"/>
<rect x="377.2" y="313.8" width="20.9" height="31.6" rx="7.6" fill="#2b4a2d"/>
<rect x="380.3" y="316.9" width="14.7" height="25.4" rx="5.0" fill="#b9b9b9" />
<rect x="415.5" y="313.8" width="20.4" height="31.6" rx="7.6" fill="#2b4a2d"/>
<rect x="418.6" y="316.9" width="14.2" height="25.4" rx="5.0" fill="#b9b9b9" />
<rect x="388.7" y="317.5" width="5.5" height="22.1" rx="1.0" fill="#f8f8f8" />
<rect x="394.2" y="317.5" width="25.7" height="22.1" rx="0.0" fill="#282b2d" />
<rect x="419.9" y="317.5" width="5.4" height="22.1" rx="1.0" fill="#f8f8f8" />
<rect x="442.3" y="315.3" width="57.8" height="31.2" rx="6" fill="#2b4a2d"/>
<rect x="442.3" y="315.3" width="21.1" height="31.2" rx="7.6" fill="#2b4a2d"/>
<rect x="445.4" y="318.4" width="14.9" height="25.0" rx="5.0" fill="#b9b9b9" />
<rect x="480.3" y="315.3" width="19.8" height="31.2" rx="7.6" fill="#2b4a2d"/>
<rect x="483.4" y="318.4" width="13.6" height="25.0" rx="5.0" fill="#b9b9b9" />
<rect x="453.6" y="318.8" width="5.9" height="22.4" rx="1.0" fill="#f8f8f8" />
<rect x="459.5" y="318.8" width="25.2" height="22.4" rx="0.0" fill="#282b2d" />
<rect x="484.7" y="318.8" width="6.5" height="22.4" rx="1.0" fill="#f8f8f8" />
<rect x="333.3" y="374.2" width="32.5" height="58.5" rx="6" fill="#2b4a2d"/>
<rect x="333.3" y="374.2" width="32.5" height="26.0" rx="7.6" fill="#2b4a2d"/>
<rect x="336.4" y="377.3" width="26.3" height="19.8" rx="5.0" fill="#b9b9b9" />
<rect x="333.3" y="408.9" width="32.5" height="23.8" rx="7.6" fill="#2b4a2d"/>
<rect x="336.4" y="412.0" width="26.3" height="17.6" rx="5.0" fill="#b9b9b9" />
<rect x="338.3" y="384.1" width="23.1" height="6.2" rx="1.0" fill="#f8f8f8" />
<rect x="338.3" y="390.3" width="23.1" height="25.0" rx="0.0" fill="#282b2d" />
<rect x="338.3" y="415.3" width="23.1" height="6.2" rx="1.0" fill="#f8f8f8" />
<rect x="369.1" y="375.0" width="32.0" height="57.7" rx="6" fill="#2b4a2d"/>
<rect x="369.1" y="375.0" width="32.0" height="25.9" rx="7.6" fill="#2b4a2d"/>
<rect x="372.2" y="378.1" width="25.8" height="19.7" rx="5.0" fill="#b9b9b9" />
<rect x="369.1" y="409.6" width="32.0" height="23.1" rx="7.6" fill="#2b4a2d"/>
<rect x="372.2" y="412.7" width="25.8" height="16.9" rx="5.0" fill="#b9b9b9" />
<rect x="373.6" y="385.0" width="23.0" height="6.0" rx="1.0" fill="#f8f8f8" />
<rect x="373.6" y="391.0" width="23.0" height="25.0" rx="0.0" fill="#282b2d" />
<rect x="373.6" y="416.0" width="23.0" height="6.0" rx="1.0" fill="#f8f8f8" />
<rect x="565.5" y="322.2" width="32.5" height="57.7" rx="6" fill="#2b4a2d"/>
<rect x="565.5" y="322.2" width="32.5" height="25.2" rx="7.6" fill="#2b4a2d"/>
<rect x="568.6" y="325.3" width="26.3" height="19.0" rx="5.0" fill="#b9b9b9" />
<rect x="565.5" y="355.5" width="32.5" height="24.4" rx="7.6" fill="#2b4a2d"/>
<rect x="568.6" y="358.6" width="26.3" height="18.2" rx="5.0" fill="#b9b9b9" />
<rect x="570.5" y="331.2" width="23.1" height="6.3" rx="1.0" fill="#f8f8f8" />
<rect x="570.5" y="337.5" width="23.1" height="24.4" rx="0.0" fill="#282b2d" />
<rect x="570.5" y="361.9" width="23.1" height="6.7" rx="1.0" fill="#f8f8f8" />
<rect x="600.0" y="322.7" width="31.9" height="57.7" rx="6" fill="#2b4a2d"/>
<rect x="600.0" y="322.7" width="31.9" height="25.2" rx="7.6" fill="#2b4a2d"/>
<rect x="603.1" y="325.8" width="25.7" height="19.0" rx="5.0" fill="#b9b9b9" />
<rect x="600.0" y="356.0" width="31.9" height="24.4" rx="7.6" fill="#2b4a2d"/>
<rect x="603.1" y="359.1" width="25.7" height="18.2" rx="5.0" fill="#b9b9b9" />
<rect x="604.9" y="331.8" width="23.4" height="6.2" rx="1.0" fill="#f8f8f8" />
<rect x="604.9" y="338.0" width="23.4" height="24.4" rx="0.0" fill="#282b2d" />
<rect x="604.9" y="362.4" width="23.4" height="6.8" rx="1.0" fill="#f8f8f8" />
<line x1="337.3" y1="333.0" x2="337.3" y2="343.0" stroke="#fff" stroke-width="1.70" stroke-linecap="round"/>
<line x1="364.0" y1="333.0" x2="364.0" y2="343.0" stroke="#fff" stroke-width="1.70" stroke-linecap="round"/>
<line x1="473.3" y1="274.5" x2="473.3" y2="283.5" stroke="#fff" stroke-width="1.70" stroke-linecap="round"/>
<line x1="500.3" y1="274.5" x2="500.3" y2="283.5" stroke="#fff" stroke-width="1.70" stroke-linecap="round"/>
<line x1="335.8" y1="398.0" x2="335.8" y2="408.0" stroke="#fff" stroke-width="1.70" stroke-linecap="round"/>
<line x1="363.2" y1="398.0" x2="363.2" y2="408.0" stroke="#fff" stroke-width="1.70" stroke-linecap="round"/>
<line x1="371.6" y1="398.0" x2="371.6" y2="408.0" stroke="#fff" stroke-width="1.70" stroke-linecap="round"/>
<line x1="398.6" y1="398.0" x2="398.6" y2="408.0" stroke="#fff" stroke-width="1.70" stroke-linecap="round"/>
<line x1="568.0" y1="344.0" x2="568.0" y2="356.0" stroke="#fff" stroke-width="1.70" stroke-linecap="round"/>
<line x1="595.5" y1="344.0" x2="595.5" y2="356.0" stroke="#fff" stroke-width="1.70" stroke-linecap="round"/>
<line x1="602.5" y1="344.0" x2="602.5" y2="356.0" stroke="#fff" stroke-width="1.70" stroke-linecap="round"/>
<line x1="629.5" y1="344.0" x2="629.5" y2="356.0" stroke="#fff" stroke-width="1.70" stroke-linecap="round"/>
<line x1="401.0" y1="315.9" x2="412.0" y2="315.9" stroke="#fff" stroke-width="1.70" stroke-linecap="round"/>
<line x1="401.0" y1="343.3" x2="412.0" y2="343.3" stroke="#fff" stroke-width="1.70" stroke-linecap="round"/>
<line x1="466.0" y1="317.4" x2="477.0" y2="317.4" stroke="#fff" stroke-width="1.70" stroke-linecap="round"/>
<line x1="466.0" y1="344.6" x2="477.0" y2="344.6" stroke="#fff" stroke-width="1.70" stroke-linecap="round"/>
<line x1="198.0" y1="333.6" x2="212.0" y2="333.6" stroke="#3e5a28" stroke-width="3.20" stroke-linecap="round"/>
<polygon points="211.1,330.0 213.0,325.0 272.0,325.0 274.2,330.0 271.5,452.0 269.0,457.0 210.0,457.0 207.0,452.0" fill="#b9b9b9" />
<polygon points="211.7,330.5 272.5,330.5 272.2,341.3 211.3,341.3" fill="#f8f8f8" />
<polygon points="211.3,341.3 272.2,341.3 270.9,436.1 207.9,436.1" fill="#282b2d" />
<polygon points="207.9,436.1 270.9,436.1 270.7,448.2 207.7,448.2" fill="#f8f8f8" />
<line x1="208.8" y1="348.5" x2="206.8" y2="430.2" stroke="#fff" stroke-width="2.30" stroke-linecap="round"/>
<line x1="274.8" y1="349.1" x2="272.5" y2="430.9" stroke="#fff" stroke-width="2.30" stroke-linecap="round"/>
<rect x="341.0" y="441.0" width="63.0" height="25.5" rx="4.0" fill="#2b4a2d" />
<rect x="331.9" y="441.9" width="26.2" height="24.2" rx="8.1" fill="#2b4a2d"/>
<rect x="335.0" y="445.0" width="20.0" height="18.0" rx="5.5" fill="#b9b9b9" />
<rect x="378.9" y="441.9" width="24.6" height="24.9" rx="8.1" fill="#2b4a2d"/>
<rect x="382.0" y="445.0" width="18.4" height="18.7" rx="5.5" fill="#b9b9b9" />
<rect x="345.0" y="450.0" width="8.5" height="7.4" rx="0.0" fill="#f0f0ee" />
<rect x="383.0" y="450.0" width="8.3" height="7.6" rx="0.0" fill="#f0f0ee" />
<rect x="348.3" y="450.0" width="1.7" height="7.4" rx="0.0" fill="#cfcfcb" />
<rect x="387.5" y="450.0" width="1.5" height="7.6" rx="0.0" fill="#cfcfcb" />
<rect x="352.6" y="441.6" width="31.9" height="23.6" rx="2.5" fill="#1f1f1f" />
<rect x="353.6" y="442.2" width="30.1" height="21.5" rx="2.0" fill="#575452" />
<rect x="374.6" y="443.3" width="7.7" height="19.3" rx="0.0" fill="#ddd5bd" />
<polyline points="343.7,437.8 406.0,439.0 406.0,470.9 343.7,469.6" fill="none" stroke="#fff" stroke-width="2.30" stroke-linecap="round" stroke-linejoin="round"/>
<rect x="427.7" y="404.8" width="33.3" height="60.0" rx="7.6" fill="#2b4a2d"/>
<rect x="430.8" y="407.9" width="27.1" height="53.8" rx="5.0" fill="#b9b9b9" />
<rect x="433.8" y="413.8" width="23.5" height="8.8" rx="1.0" fill="#f8f8f8" />
<rect x="434.6" y="422.6" width="21.9" height="21.4" rx="0.0" fill="#b59182" />
<rect x="433.8" y="444.0" width="23.5" height="8.9" rx="1.0" fill="#f8f8f8" />
<rect x="600.6" y="415.7" width="33.7" height="59.1" rx="7.6" fill="#2b4a2d"/>
<rect x="603.7" y="418.8" width="27.5" height="52.9" rx="5.0" fill="#b9b9b9" />
<rect x="607.4" y="426.3" width="2.9" height="35.7" rx="0.8" fill="#5a5654" />
<rect x="607.4" y="433.6" width="2.9" height="21.4" rx="0.0" fill="#4e3f39" />
<rect x="609.8" y="425.3" width="23.2" height="7.3" rx="1.0" fill="#f8f8f8" />
<rect x="610.6" y="432.6" width="21.6" height="22.4" rx="0.0" fill="#b59182" />
<rect x="609.8" y="455.0" width="23.2" height="7.5" rx="1.0" fill="#f8f8f8" />
<line x1="429.4" y1="428.5" x2="429.4" y2="440.2" stroke="#fff" stroke-width="1.70" stroke-linecap="round"/>
<line x1="458.9" y1="428.5" x2="458.9" y2="440.2" stroke="#fff" stroke-width="1.70" stroke-linecap="round"/>
<line x1="603.3" y1="440.0" x2="603.3" y2="450.5" stroke="#fff" stroke-width="1.70" stroke-linecap="round"/>
<line x1="347.8" y1="240.6" x2="358.6" y2="240.6" stroke="#fff" stroke-width="1.70" stroke-linecap="round"/>
<line x1="410.0" y1="240.9" x2="421.0" y2="240.9" stroke="#fff" stroke-width="1.70" stroke-linecap="round"/>
<rect x="470.0" y="403.0" width="30.0" height="75.0" rx="3.0" fill="#2b4a2d" />
<rect x="568.0" y="404.0" width="22.0" height="75.0" rx="3.0" fill="#2b4a2d" />
<line x1="494.0" y1="393.5" x2="567.0" y2="393.9" stroke="#fff" stroke-width="2.20" stroke-linecap="round"/>
<rect x="463.9" y="395.6" width="39.2" height="18.2" rx="8.1" fill="#2b4a2d"/>
<rect x="467.0" y="398.7" width="33.0" height="12.0" rx="5.5" fill="#b9b9b9" />
<rect x="476.3" y="399.9" width="8.7" height="9.2" rx="0.6" fill="#f6f6f4" />
<rect x="485.0" y="399.7" width="1.6" height="9.2" rx="0.0" fill="#8e8e8a" />
<rect x="486.6" y="399.1" width="13.4" height="9.2" rx="0.6" fill="#f8f8f6" />
<rect x="463.9" y="418.9" width="39.2" height="18.2" rx="8.1" fill="#2b4a2d"/>
<rect x="467.0" y="422.0" width="33.0" height="12.0" rx="5.5" fill="#b9b9b9" />
<rect x="476.3" y="423.2" width="8.7" height="9.2" rx="0.6" fill="#f6f6f4" />
<rect x="485.0" y="423.0" width="1.6" height="9.2" rx="0.0" fill="#8e8e8a" />
<rect x="486.6" y="422.4" width="13.4" height="9.2" rx="0.6" fill="#f8f8f6" />
<rect x="463.9" y="442.7" width="39.2" height="17.6" rx="8.1" fill="#2b4a2d"/>
<rect x="467.0" y="445.8" width="33.0" height="11.4" rx="5.5" fill="#b9b9b9" />
<rect x="476.3" y="447.0" width="8.7" height="8.6" rx="0.6" fill="#f6f6f4" />
<rect x="485.0" y="446.8" width="1.6" height="8.6" rx="0.0" fill="#8e8e8a" />
<rect x="486.6" y="446.2" width="13.4" height="8.6" rx="0.6" fill="#f8f8f6" />
<rect x="463.9" y="465.9" width="39.2" height="18.2" rx="8.1" fill="#2b4a2d"/>
<rect x="467.0" y="469.0" width="33.0" height="12.0" rx="5.5" fill="#b9b9b9" />
<rect x="476.3" y="470.2" width="8.7" height="9.2" rx="0.6" fill="#f6f6f4" />
<rect x="485.0" y="470.0" width="1.6" height="9.2" rx="0.0" fill="#8e8e8a" />
<rect x="486.6" y="469.4" width="13.4" height="9.2" rx="0.6" fill="#f8f8f6" />
<rect x="564.9" y="396.9" width="31.5" height="18.2" rx="8.1" fill="#2b4a2d"/>
<rect x="568.0" y="400.0" width="25.3" height="12.0" rx="5.5" fill="#b9b9b9" />
<rect x="568.0" y="400.4" width="10.0" height="9.2" rx="0.6" fill="#f8f8f6" />
<rect x="578.0" y="401.0" width="1.6" height="9.2" rx="0.0" fill="#8e8e8a" />
<rect x="579.6" y="401.2" width="6.6" height="9.2" rx="0.6" fill="#f6f6f4" />
<rect x="564.9" y="420.4" width="31.5" height="17.9" rx="8.1" fill="#2b4a2d"/>
<rect x="568.0" y="423.5" width="25.3" height="11.7" rx="5.5" fill="#b9b9b9" />
<rect x="568.0" y="423.9" width="10.0" height="8.9" rx="0.6" fill="#f8f8f6" />
<rect x="578.0" y="424.5" width="1.6" height="8.9" rx="0.0" fill="#8e8e8a" />
<rect x="579.6" y="424.7" width="6.6" height="8.9" rx="0.6" fill="#f6f6f4" />
<rect x="564.9" y="443.7" width="31.5" height="17.9" rx="8.1" fill="#2b4a2d"/>
<rect x="568.0" y="446.8" width="25.3" height="11.7" rx="5.5" fill="#b9b9b9" />
<rect x="568.0" y="447.2" width="10.0" height="8.9" rx="0.6" fill="#f8f8f6" />
<rect x="578.0" y="447.8" width="1.6" height="8.9" rx="0.0" fill="#8e8e8a" />
<rect x="579.6" y="448.0" width="6.6" height="8.9" rx="0.6" fill="#f6f6f4" />
<rect x="564.9" y="467.1" width="31.5" height="18.0" rx="8.1" fill="#2b4a2d"/>
<rect x="568.0" y="470.2" width="25.3" height="11.8" rx="5.5" fill="#b9b9b9" />
<rect x="568.0" y="470.6" width="10.0" height="9.0" rx="0.6" fill="#f8f8f6" />
<rect x="578.0" y="471.2" width="1.6" height="9.0" rx="0.0" fill="#8e8e8a" />
<rect x="579.6" y="471.4" width="6.6" height="9.0" rx="0.6" fill="#f6f6f4" />
<rect x="498.0" y="393.4" width="71.8" height="91.6" rx="3.0" fill="#1c1c1c" />
<rect x="500.2" y="393.6" width="69.6" height="89.0" rx="2.5" fill="#565452" />
<circle cx="556" cy="468.1" r="5.7" fill="#d4cfba"/>
<line x1="494.0" y1="487.8" x2="567.4" y2="487.8" stroke="#fff" stroke-width="2.20" stroke-linecap="round"/>
<polygon points="574.8,493.1 585.7,493.1 580.1,485.8" fill="#fff" />
<polyline points="644.2,169.5 648.2,448.6 784.0,450.8" fill="none" stroke="#fff" stroke-width="2.00" stroke-linecap="round" stroke-linejoin="round"/>
<polygon points="685.1,125.4 646.3,170.0 650.0,447.3 783.2,447.3 792.7,444.5 836.1,435.6 838.8,433.7 826.1,128.5" fill="#172c1d" />
<polygon points="692.9,431.5 838.8,433.7 836.1,435.6 792.7,444.5 783.2,447.3 650.0,447.3" fill="#1b3424" />
<polygon points="685.1,125.4 826.1,128.5 838.8,433.7 692.9,431.5" fill="#93efc0" />
<polygon points="820.5,436.0 826.5,436.2 824.0,438.5 820.0,438.0" fill="#93efc0" />
<clipPath id="cv1"><path d="M695.9,144.3 L779.2,146.1 L779.2,160.2 L796.7,161.1 L797.5,152.1 L811.4,147.8 L814.5,204.5 L799.8,200.2 L799.0,190.2 L780.5,189.8 L780.5,203.5 L764.0,203.2 L772.9,196.2 L772.4,180.5 L757.8,191.5 L743.3,190.8 L742.4,177.0 L725.2,177.3 L708.0,177.9 A12.1,24.1 0 0 0 695.9,153.8 Z"/></clipPath>
<path d="M695.9,144.3 L779.2,146.1 L779.2,160.2 L796.7,161.1 L797.5,152.1 L811.4,147.8 L814.5,204.5 L799.8,200.2 L799.0,190.2 L780.5,189.8 L780.5,203.5 L764.0,203.2 L772.9,196.2 L772.4,180.5 L757.8,191.5 L743.3,190.8 L742.4,177.0 L725.2,177.3 L708.0,177.9 A12.1,24.1 0 0 0 695.9,153.8 Z" fill="#1c3525"/>
<g clip-path="url(#cv1)">
<polygon points="770.7,146.1 779.2,146.1 779.2,160.2 737.3,195.5 736.4,175.0" fill="#193022" />
<polygon points="779.2,160.2 796.7,161.1 772.4,180.5 757.8,191.5 743.3,190.8 737.3,194.8" fill="#1f3a29" />
<polygon points="796.7,161.1 797.2,136.1 818.7,136.1 822.7,211.1 760.4,208.5 772.4,180.5" fill="#172c1f" />
</g>
<polygon points="725.2,176.4 702.6,198.1 703.1,201.7 730.3,202.6 743.3,190.5 742.4,177.0" fill="#3c3b39" />
<polygon points="726.7,191.4 742.9,190.9 730.3,202.6 703.1,201.7" fill="#4b4a47" />
<polygon points="726.1,176.4 742.4,177.0 742.9,190.9 726.7,191.4" fill="#8b8b87" />
<polygon points="733.0,177.5 741.8,177.9 741.8,186.0 733.0,185.5" fill="#ffffff" />
<clipPath id="cv2"><path d="M697.3,212.5 L780.5,215.2 L781.3,228.0 L799.5,228.5 L800.3,219.8 L814.4,215.8 L817.1,272.7 L802.2,267.8 L801.4,257.8 L783.2,257.8 L783.2,272.2 L761.5,271.9 L775.1,263.2 L774.5,245.6 L760.2,255.1 L743.9,254.5 L743.9,244.0 L727.6,243.4 L710.0,239.6 A12.2,18.4 0 0 0 697.8,221.2 Z"/></clipPath>
<path d="M697.3,212.5 L780.5,215.2 L781.3,228.0 L799.5,228.5 L800.3,219.8 L814.4,215.8 L817.1,272.7 L802.2,267.8 L801.4,257.8 L783.2,257.8 L783.2,272.2 L761.5,271.9 L775.1,263.2 L774.5,245.6 L760.2,255.1 L743.9,254.5 L743.9,244.0 L727.6,243.4 L710.0,239.6 A12.2,18.4 0 0 0 697.8,221.2 Z" fill="#1c3525"/>
<g clip-path="url(#cv2)">
<polygon points="772.0,215.2 780.5,215.2 781.3,228.0 738.4,263.6 737.9,242.0" fill="#193022" />
<polygon points="781.3,228.0 799.5,228.5 774.5,245.6 760.2,255.1 743.9,254.5 737.9,258.5" fill="#1f3a29" />
<polygon points="799.5,228.5 800.0,203.5 821.5,203.5 825.5,278.5 762.5,273.6 774.5,245.6" fill="#172c1f" />
</g>
<polygon points="727.6,243.4 704.6,260.5 705.1,270.0 723.6,271.4 744.4,258.6 743.9,244.0" fill="#3c3b39" />
<polygon points="728.4,259.2 744.4,258.6 723.6,271.4 705.1,270.0" fill="#4b4a47" />
<polygon points="727.6,243.4 743.9,244.0 744.4,258.6 728.4,259.2" fill="#8b8b87" />
<polygon points="734.4,244.8 743.4,245.0 743.4,253.7 734.4,253.5" fill="#ffffff" />
<clipPath id="cv3"><path d="M699.2,281.7 L784.0,283.6 L784.6,297.1 L802.2,297.1 L802.7,288.4 L817.1,284.1 L819.8,341.9 L804.4,337.3 L803.6,327.5 L785.9,327.5 L785.9,341.9 L757.5,341.3 L777.8,331.0 L777.3,312.0 L762.9,318.3 L746.6,317.5 L746.6,305.3 L710.0,303.9 A10.3,13.6 0 0 0 699.7,290.3 Z"/></clipPath>
<path d="M699.2,281.7 L784.0,283.6 L784.6,297.1 L802.2,297.1 L802.7,288.4 L817.1,284.1 L819.8,341.9 L804.4,337.3 L803.6,327.5 L785.9,327.5 L785.9,341.9 L757.5,341.3 L777.8,331.0 L777.3,312.0 L762.9,318.3 L746.6,317.5 L746.6,305.3 L710.0,303.9 A10.3,13.6 0 0 0 699.7,290.3 Z" fill="#1c3525"/>
<g clip-path="url(#cv3)">
<polygon points="775.5,283.6 784.0,283.6 784.6,297.1 741.2,330.6 740.6,309.2" fill="#193022" />
<polygon points="784.6,297.1 802.2,297.1 777.3,312.0 762.9,318.3 746.6,317.5 740.6,321.5" fill="#1f3a29" />
<polygon points="802.2,297.1 802.7,272.1 824.2,272.1 828.2,347.1 765.3,340.0 777.3,312.0" fill="#172c1f" />
</g>
<polygon points="730.3,310.7 707.3,325.6 707.8,337.8 723.6,339.2 747.2,325.6 746.6,311.2" fill="#3c3b39" />
<polygon points="730.9,326.1 747.2,325.6 723.6,339.2 707.8,337.8" fill="#4b4a47" />
<polygon points="730.3,310.7 746.6,311.2 747.2,325.6 730.9,326.1" fill="#8b8b87" />
<polygon points="736.6,311.5 746.1,312.0 746.1,321.0 736.6,320.7" fill="#ffffff" />
<clipPath id="cv4"><path d="M701.1,352.2 L785.9,353.5 L786.7,366.3 L804.4,366.8 L804.9,358.1 L819.8,354.1 L823.1,413.2 L807.6,407.8 L806.8,397.5 L788.6,397.5 L788.6,412.4 L749.3,411.6 L780.5,400.2 L779.7,378.5 L765.6,383.9 L748.8,383.4 L748.8,369.0 L708.6,367.6 A7.3,6.8 0 0 0 701.3,360.8 Z"/></clipPath>
<path d="M701.1,352.2 L785.9,353.5 L786.7,366.3 L804.4,366.8 L804.9,358.1 L819.8,354.1 L823.1,413.2 L807.6,407.8 L806.8,397.5 L788.6,397.5 L788.6,412.4 L749.3,411.6 L780.5,400.2 L779.7,378.5 L765.6,383.9 L748.8,383.4 L748.8,369.0 L708.6,367.6 A7.3,6.8 0 0 0 701.3,360.8 Z" fill="#1c3525"/>
<g clip-path="url(#cv4)">
<polygon points="777.4,353.5 785.9,353.5 786.7,366.3 742.8,400.3 742.5,377.8" fill="#193022" />
<polygon points="786.7,366.3 804.4,366.8 779.7,378.5 765.6,383.9 748.8,383.4 742.8,387.4" fill="#1f3a29" />
<polygon points="804.4,366.8 804.9,341.8 826.4,341.8 830.4,416.8 767.7,406.5 779.7,378.5" fill="#172c1f" />
</g>
<polygon points="732.2,379.3 712.7,387.1 708.1,395.3 708.6,404.2 723.6,404.8 748.8,395.3 748.5,379.8" fill="#3c3b39" />
<polygon points="733.0,396.1 748.8,395.3 723.6,404.8 708.6,404.2" fill="#4b4a47" />
<polygon points="732.2,379.3 748.5,379.8 748.8,395.3 733.0,396.1" fill="#8b8b87" />
<polygon points="739.0,380.6 748.0,381.2 748.0,390.1 739.0,389.9" fill="#ffffff" />
<polyline points="201.4,222.9 197.6,379.8 55.7,377.5 55.7,374.0" fill="none" stroke="#fff" stroke-width="2.20" stroke-linecap="round" stroke-linejoin="round"/>
<polyline points="48.9,368.5 48.9,385.0 73.1,385.4" fill="none" stroke="#fff" stroke-width="2.20" stroke-linecap="round" stroke-linejoin="round"/>
<polygon points="187.1,184.2 200.4,222.0 196.3,378.6 182.3,356.0" fill="#213f2c" />
<polygon points="27.9,352.7 182.3,356.0 196.3,378.6 56.2,376.4 31.3,357.2" fill="#1b3625" />
<polygon points="36.1,181.1 187.1,184.2 182.3,356.0 27.9,352.7" fill="#93efc0" />
<polygon points="28.3,353.0 38.5,353.2 38.5,359.8 31.8,358.3" fill="#93efc0" />
<path d="M51,200.9 L66.7,206.6 L66.7,216.4 L86.1,216.8 L86.5,201.5 L175.9,204 L175.3,213.4 A12.2,17.7 0 0 0 163.1,231.1 L103.5,229.7 L103.1,244 L86.1,244 L71.8,229.7 L70.8,245.4 L65.1,245.8 L64.3,256.6 L48.4,260.7 Z" fill="#1c3525"/>
<polygon points="84.7,247.4 84.7,261.7 94.9,261.7" fill="#1c3525" />
<polygon points="166.3,246.0 173.9,253.6 173.9,262.8" fill="#1c3525" />
<polygon points="119.4,248.5 128.0,262.8 145.3,262.8 145.7,251.5 136.1,233.6 119.8,233.2" fill="#4a4946" />
<polygon points="119.8,233.2 136.1,233.6 135.7,248.9 119.4,248.5" fill="#8b8b87" />
<polygon points="121.8,234.2 131.0,234.4 131.0,243.0 121.8,242.8" fill="#fff" />
<path d="M48.2,271.8 L63.6,276.9 L63.6,287.1 L83.3,287.6 L83.7,273.1 L173.7,274.7 L173.2,284.4 A10.8,11.8 0 0 0 162.4,296.2 L101.4,295 L100.9,309.3 L83.3,309.3 L68.6,295 L67.9,317.6 L61.8,318.1 L61.4,328.2 L45.3,332.8 Z" fill="#1c3525"/>
<polygon points="81.0,318.3 81.0,333.4 94.6,333.4" fill="#1c3525" />
<polygon points="163.5,316.5 171.9,323.3 171.9,331.2" fill="#1c3525" />
<polygon points="117.2,318.3 127.3,332.3 142.7,332.8 143.2,317.6 134.1,302.9 117.6,302.5" fill="#4a4946" />
<polygon points="117.6,302.5 134.1,302.9 133.7,319.2 117.2,318.3" fill="#8b8b87" />
<polygon points="119.4,304.1 128.5,304.3 128.5,313.1 119.4,312.9" fill="#fff" />
<g filter="url(#idf)">
<text x="203.08" y="100.25" font-size="28.25" textLength="34.07" lengthAdjust="spacingAndGlyphs">C6</text>
<text x="374.56" y="105.75" font-size="28.61" textLength="33.60" lengthAdjust="spacingAndGlyphs">C3</text>
<text x="514.06" y="124.25" font-size="29.30" textLength="34.16" lengthAdjust="spacingAndGlyphs">U1</text>
<text x="288.56" y="234.00" font-size="28.61" textLength="33.85" lengthAdjust="spacingAndGlyphs">C4</text>
<text x="411.56" y="209.50" font-size="28.61" textLength="33.87" lengthAdjust="spacingAndGlyphs">C5</text>
<text x="468.56" y="247.00" font-size="28.96" textLength="34.96" lengthAdjust="spacingAndGlyphs">R3</text>
<text x="224.99" y="313.50" font-size="30.74" textLength="35.84" lengthAdjust="spacingAndGlyphs">R9</text>
<text x="564.04" y="321.75" font-size="29.65" textLength="67.70" lengthAdjust="spacingAndGlyphs">R2R1</text>
<text x="368.28" y="367.00" font-size="23.25" textLength="24.96" lengthAdjust="spacingAndGlyphs">R8</text>
<text x="410.02" y="367.00" font-size="23.96" textLength="24.72" lengthAdjust="spacingAndGlyphs">R5</text>
<text x="449.29" y="369.50" font-size="30.01" textLength="34.69" lengthAdjust="spacingAndGlyphs">R4</text>
<text x="304.76" y="414.00" font-size="25.00" textLength="27.79" lengthAdjust="spacingAndGlyphs">R7</text>
<text x="397.27" y="413.00" font-size="23.28" textLength="29.24" lengthAdjust="spacingAndGlyphs">R6</text>
<text x="350.29" y="498.25" font-size="30.00" textLength="34.74" lengthAdjust="spacingAndGlyphs">D1</text>
<text x="421.98" y="491.75" font-size="30.40" textLength="34.79" lengthAdjust="spacingAndGlyphs">C2</text>
<text x="602.76" y="504.75" font-size="30.04" textLength="34.47" lengthAdjust="spacingAndGlyphs">C1</text>
</g>
</svg></body></html>
